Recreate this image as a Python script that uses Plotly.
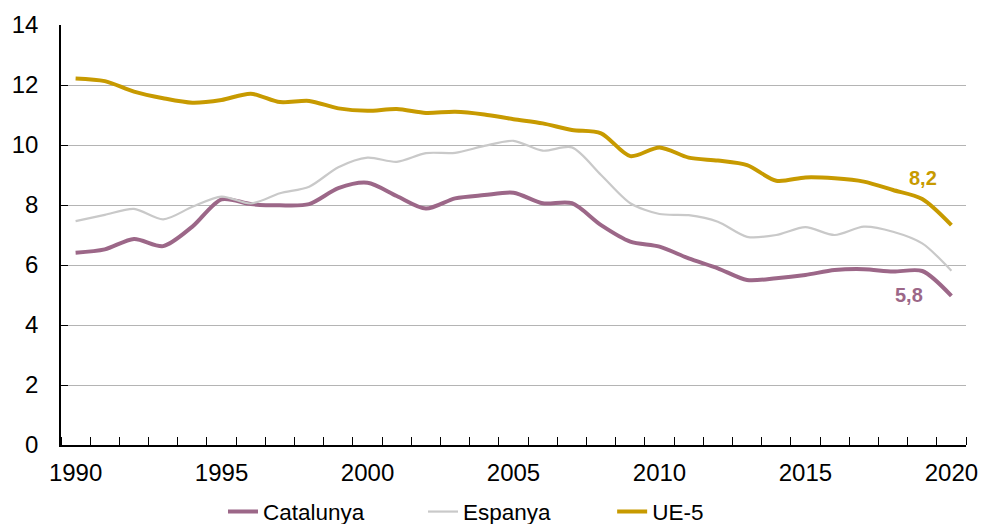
import plotly.graph_objects as go

# Annual series, 1990-2020
years = list(range(1990, 2021))

catalunya = [6.41, 6.52, 6.87, 6.63, 7.28, 8.19, 8.03, 7.99, 8.03, 8.56,
             8.74, 8.30, 7.88, 8.22, 8.33, 8.41, 8.06, 8.06, 7.33, 6.78,
             6.61, 6.22, 5.89, 5.50, 5.56, 5.67, 5.83, 5.86, 5.78, 5.8,
             4.97]

espanya = [7.46, 7.67, 7.87, 7.52, 7.94, 8.28, 8.05, 8.39, 8.61, 9.26,
           9.58, 9.44, 9.73, 9.74, 9.97, 10.14, 9.81, 9.92, 9.00, 8.06,
           7.70, 7.66, 7.44, 6.94, 7.00, 7.26, 7.00, 7.28, 7.11, 6.72,
           5.81]

ue5 = [12.22, 12.13, 11.78, 11.56, 11.41, 11.50, 11.71, 11.43, 11.47, 11.22,
       11.14, 11.20, 11.07, 11.11, 11.02, 10.86, 10.72, 10.50, 10.39, 9.63,
       9.92, 9.58, 9.48, 9.33, 8.81, 8.92, 8.89, 8.78, 8.50, 8.2,
       7.33]

x_tick_years = [1990, 1995, 2000, 2005, 2010, 2015, 2020]
y_ticks = [0, 2, 4, 6, 8, 10, 12, 14]

COL_CAT = "#9C6788"
COL_ESP = "#C9C9C9"
COL_UE = "#C79A00"


def fmt(v):
    return f"{v:.1f}".replace(".", ",")


fig = go.Figure()
fig.add_trace(go.Scatter(x=years, y=catalunya, name="Catalunya", mode="lines",
                         legend="legend",
                         line=dict(color=COL_CAT, width=4, shape="spline", smoothing=0.8)))
fig.add_trace(go.Scatter(x=years, y=espanya, name="Espanya", mode="lines",
                         legend="legend2",
                         line=dict(color=COL_ESP, width=2.2, shape="spline", smoothing=0.8)))
fig.add_trace(go.Scatter(x=years, y=ue5, name="UE-5", mode="lines",
                         legend="legend3",
                         line=dict(color=COL_UE, width=4, shape="spline", smoothing=0.8)))

# Value labels for 2019
fig.add_annotation(x=years[-2], y=ue5[-2], text=f"<b>{fmt(ue5[-2])}</b>",
                   showarrow=False, xanchor="center", yanchor="middle",
                   xshift=1, yshift=21, font=dict(color=COL_UE, size=20))
fig.add_annotation(x=years[-2], y=catalunya[-2], text=f"<b>{fmt(catalunya[-2])}</b>",
                   showarrow=False, xanchor="center", yanchor="middle",
                   xshift=-13, yshift=-24, font=dict(color=COL_CAT, size=20))

legend_common = dict(orientation="h", xanchor="left", yref="container", y=0.023,
                     yanchor="middle", font=dict(size=22.5), bgcolor="rgba(0,0,0,0)",
                     itemwidth=30)

fig.update_layout(
    width=983, height=524,
    margin=dict(l=61, r=17, t=25, b=79, autoexpand=False),
    paper_bgcolor="white", plot_bgcolor="white",
    font=dict(family="Liberation Sans, Arial, sans-serif", size=24, color="black"),
    showlegend=True,
    legend=dict(x=0.179, **legend_common),
    legend2=dict(x=0.400, **legend_common),
    legend3=dict(x=0.609, **legend_common),
)

fig.update_xaxes(
    range=[1989.5, 2020.5], tickmode="array", tickvals=x_tick_years,
    ticktext=[str(v) for v in x_tick_years], ticks="", showgrid=False,
    ticklabelstandoff=5, automargin=False,
    showline=True, linecolor="black", linewidth=1.5, zeroline=False,
    minor=dict(tickmode="linear", tick0=1989.5, dtick=1, ticks="inside",
               ticklen=8, tickcolor="black", tickwidth=1, showgrid=False),
)
fig.update_yaxes(
    range=[0, 14], tickmode="array", tickvals=y_ticks,
    ticktext=[str(v) for v in y_ticks], ticks="inside", ticklen=7,
    ticklabelstandoff=16, automargin=False,
    tickcolor="black", showline=True, linecolor="black", linewidth=1.5,
    showgrid=True, gridcolor="#B4B4B4", gridwidth=1.2, zeroline=False,
)

fig.write_html("out.html")
